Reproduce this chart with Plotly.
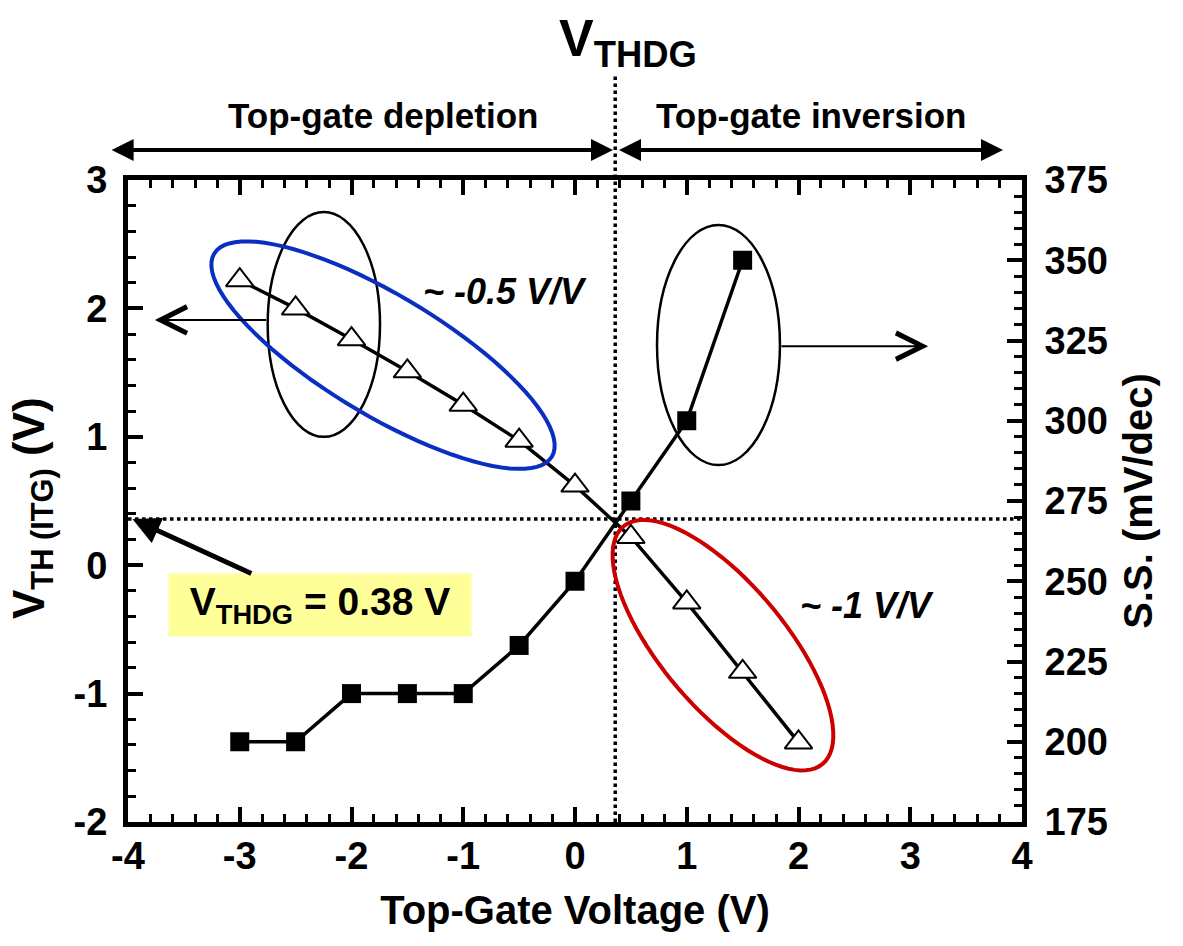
import numpy as np
import plotly.graph_objects as go

# ---------------- data ----------------
vtg_vth = [-3, -2.5, -2, -1.5, -1, -0.5, 0, 0.5, 1, 1.5, 2]
vth_itg = [2.22, 2.0, 1.76, 1.51, 1.25, 0.97, 0.62, 0.22, -0.29, -0.83, -1.38]
vtg_ss = [-3, -2.5, -2, -1.5, -1, -0.5, 0, 0.5, 1, 1.5]
ss_vals = [200, 200, 215, 215, 215, 230, 250, 275, 300, 350]
x_ticks = [-4, -3, -2, -1, 0, 1, 2, 3, 4]
x_ticktext = ["-4", "-3", "-2", "-1", "0", "1", "2", "3", "4"]
y_ticks = [-2, -1, 0, 1, 2, 3]
y_ticktext = ["-2", "-1", "0", "1", "2", "3"]
y2_ticks = [175, 200, 225, 250, 275, 300, 325, 350, 375]
VTHDG = 0.36

# ---------------- layout constants ----------------
W, H = 1183, 946
ML, MR, MT, MB = 128, 161, 180, 124
XR = [-4, 4]
YR = [-2, 3]
Y2R = [175, 375]
PW = W - ML - MR
PH = H - MT - MB
PXX = PW / (XR[1] - XR[0])
PXY = PH / (YR[1] - YR[0])
FONT = "Liberation Sans, Arial, sans-serif"


def ellipse_path(cx, cy, a, b, ang):
    th = np.deg2rad(ang)
    t = np.linspace(0, 2 * np.pi, 91)
    dx = a * np.cos(t) * np.cos(th) - b * np.sin(t) * np.sin(th)
    dy = a * np.cos(t) * np.sin(th) + b * np.sin(t) * np.cos(th)
    xs = cx + dx / PXX
    ys = cy - dy / PXY
    pts = [f"{x:.4f},{y:.4f}" for x, y in zip(xs, ys)]
    return "M" + " L".join(pts) + " Z"


def py(pix):
    """paper y from a pixel row"""
    return (H - MB - pix) / PH


def px(pix):
    """paper x from a pixel column"""
    return (pix - ML) / PW


fig = go.Figure()
fig.add_trace(go.Scatter(
    x=vtg_ss, y=ss_vals, yaxis="y2", mode="lines+markers",
    line=dict(color="black", width=3.5),
    marker=dict(symbol="square", size=19, color="black"),
))
fig.add_trace(go.Scatter(
    x=vtg_vth, y=vth_itg, mode="lines+markers",
    line=dict(color="black", width=3.5),
    marker=dict(symbol="triangle-up", size=24, color="white",
                line=dict(color="black", width=2)),
))

tickfont = dict(family=FONT, size=38, color="black", weight="bold")
titlefont = dict(family=FONT, size=40, color="black", weight="bold")

common = dict(showgrid=False, zeroline=False, showline=True, linecolor="black",
              linewidth=5, ticks="inside", ticklen=15, tickwidth=3.5,
              tickcolor="black", tickfont=tickfont)

fig.update_layout(
    width=W, height=H,
    margin=dict(l=ML, r=MR, t=MT, b=MB),
    paper_bgcolor="white", plot_bgcolor="white",
    showlegend=False, hovermode=False,
    xaxis=dict(range=XR, tickvals=x_ticks, ticktext=x_ticktext, mirror="ticks",
               minor=dict(dtick=0.2, ticks="inside", ticklen=8, tickwidth=3,
                          tickcolor="black"),
               ticklabelstandoff=-4,
               title=dict(text="Top-Gate Voltage (V)", font=titlefont, standoff=22),
               **common),
    yaxis=dict(range=YR, tickvals=y_ticks, ticktext=y_ticktext,
               minor=dict(dtick=0.2, ticks="inside", ticklen=8, tickwidth=3,
                          tickcolor="black"),
               ticklabelstandoff=8,
               **common),
    yaxis2=dict(range=Y2R, tickvals=y2_ticks, overlaying="y", side="right",
                minor=dict(dtick=5, ticks="inside", ticklen=8, tickwidth=3,
                           tickcolor="black"),
                ticklabelstandoff=10,
                title=dict(text="S.S. (mV/dec)", font=titlefont, standoff=18),
                **common),
)

shapes = [
    # V_THDG dotted guide lines
    dict(type="line", xref="x", yref="paper", x0=VTHDG, x1=VTHDG, y0=0, y1=py(74),
         line=dict(color="black", width=3.5, dash="dot")),
    dict(type="line", xref="paper", yref="y", x0=0, x1=1, y0=VTHDG, y1=VTHDG,
         line=dict(color="black", width=3.5, dash="dot")),
    # black ellipses
    dict(type="circle", xref="x", yref="y", x0=-2.75, x1=-1.745, y0=1.0, y1=2.75,
         line=dict(color="black", width=2.5)),
    dict(type="circle", xref="x", yref="y", x0=0.734, x1=1.834, y0=0.78, y1=2.65,
         line=dict(color="black", width=2.5)),
    # rotated blue / red ellipses
    dict(type="path", xref="x", yref="y", path=ellipse_path(-1.718, 1.636, 197, 60, 31),
         line=dict(color="#0a2fc0", width=4)),
    dict(type="path", xref="x", yref="y", path=ellipse_path(1.324, -0.623, 155, 62, 50),
         line=dict(color="#cc0000", width=4)),
]
fig.update_layout(shapes=shapes)

anns = [
    # left axis title
    dict(xref="paper", yref="paper", x=px(32), y=py(508), xanchor="center",
         yanchor="middle", textangle=-90, showarrow=False,
         text="V<sub>TH (ITG)</sub> (V)",
         font=dict(family=FONT, size=44, color="black", weight="bold")),
    # region arrows
    dict(xref="x", yref="paper", x=0.34, y=py(150), axref="x", ax=-4.16,
         ayref="pixel", ay=0, text="", showarrow=True, arrowside="end+start",
         arrowhead=2, startarrowhead=2, arrowwidth=4, arrowsize=1.1,
         startarrowsize=1.1, arrowcolor="black"),
    dict(xref="x", yref="paper", x=3.83, y=py(150), axref="x", ax=0.38,
         ayref="pixel", ay=0, text="", showarrow=True, arrowside="end+start",
         arrowhead=2, startarrowhead=2, arrowwidth=4, arrowsize=1.1,
         startarrowsize=1.1, arrowcolor="black"),
    dict(xref="paper", yref="paper", x=px(383), y=py(115),
         xanchor="center", yanchor="middle",
         text="Top-gate depletion", showarrow=False,
         font=dict(family=FONT, size=35, color="black", weight="bold")),
    dict(xref="paper", yref="paper", x=px(811), y=py(115),
         xanchor="center", yanchor="middle",
         text="Top-gate inversion", showarrow=False,
         font=dict(family=FONT, size=35, color="black", weight="bold")),
    dict(xref="paper", yref="paper", x=px(628), y=py(42),
         xanchor="center", yanchor="middle",
         text="V<sub>THDG</sub>", showarrow=False,
         font=dict(family=FONT, size=52, color="black", weight="bold")),
    # slope labels
    dict(xref="x", yref="y", x=-0.63, y=2.13, text="<i>~ -0.5 V/V</i>",
         showarrow=False,
         font=dict(family=FONT, size=36, color="black", weight="bold")),
    dict(xref="x", yref="y", x=2.61, y=-0.31, text="<i>~ -1 V/V</i>",
         showarrow=False,
         font=dict(family=FONT, size=36, color="black", weight="bold")),
    # axis pointers from black ellipses
    dict(xref="x", yref="y", x=-3.76, y=1.91, axref="x", ax=-2.75, ayref="y", ay=1.91,
         text="", showarrow=True, arrowhead=5, arrowwidth=2, arrowsize=2.6,
         arrowcolor="black"),
    dict(xref="x", yref="y", x=3.16, y=1.706, axref="x", ax=1.834, ayref="y", ay=1.706,
         text="", showarrow=True, arrowhead=5, arrowwidth=2, arrowsize=2.6,
         arrowcolor="black"),
    # V_THDG box with arrow
    dict(xref="x", yref="y", x=-3.96, y=0.36, axref="x", ax=-2.282, ayref="y", ay=-0.31,
         text="V<sub>THDG</sub> = 0.38 V", showarrow=True, arrowhead=2,
         arrowwidth=5, arrowsize=1.1, arrowcolor="black",
         bgcolor="#FFFF99", width=300, height=60, borderpad=1,
         font=dict(family=FONT, size=39, color="black", weight="bold")),
]
fig.update_layout(annotations=anns)

fig.write_html("out.html")
